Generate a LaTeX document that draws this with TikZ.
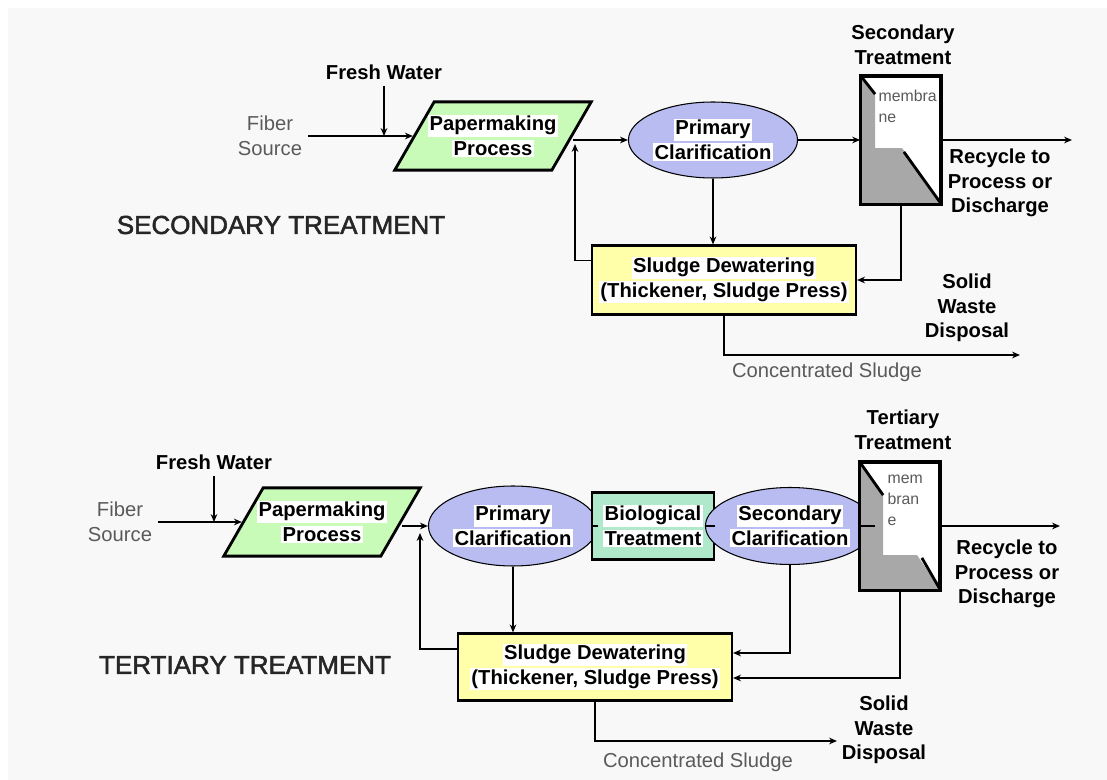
\documentclass[tikz,border=0pt]{standalone}
\usepackage{fontspec}
\setmainfont{Liberation Sans}
\newfontfamily\headfont[FakeBold=2]{Liberation Sans}
\usetikzlibrary{arrows.meta, shapes.geometric, positioning}

\definecolor{bggray}{RGB}{248,248,248}
\definecolor{papergreen}{RGB}{200,250,184}
\definecolor{clarblue}{RGB}{184,188,240}
\definecolor{biomint}{RGB}{176,232,204}
\definecolor{sludgeyellow}{RGB}{255,255,170}
\definecolor{membgray}{RGB}{168,168,168}
\definecolor{notegray}{RGB}{90,90,90}

\newcommand{\wl}[1]{{\setlength{\fboxsep}{0.8pt}\colorbox{white}{#1}}}

\tikzset{
  txt/.style={font=\fontsize{11.5}{14}\selectfont\bfseries, align=center},
  process/.style={txt, trapezium, trapezium left angle=60, trapezium right angle=120,
    draw, line width=1.6pt, fill=papergreen, inner xsep=-0.12cm, inner ysep=0.26cm},
  clarifier/.style={txt, ellipse, draw, line width=0.6pt, fill=clarblue, inner sep=0pt},
  biobox/.style={txt, rectangle, draw, line width=1.6pt, fill=biomint,
    minimum width=2.44cm, minimum height=1.34cm, inner sep=0pt},
  sludgebox/.style={txt, rectangle, draw, line width=1.3pt, fill=sludgeyellow, inner sep=0pt},
  membox/.style={rectangle, draw, line width=1.6pt, fill=white,
    minimum width=1.58cm, minimum height=2.54cm, inner sep=0pt},
  lbl/.style={txt},
  note/.style={font=\fontsize{11.5}{14}\selectfont, text=notegray, align=center},
  memtext/.style={font=\fontsize{9}{12}\selectfont, text=notegray, align=left, inner sep=0pt},
  heading/.style={font=\headfont\fontsize{14.8}{17}\selectfont, text=black!85},
  flow/.style={-{Stealth[length=4.5pt, width=3.8pt]}},
}

\begin{document}
\begin{tikzpicture}[x=0.02cm, y=-0.02cm, line width=0.7pt]
    \useasboundingbox (0,0) rectangle (1107,780);
    \fill[white] (0,0) rectangle (1107,780);
    \fill[bggray] (8,8) rectangle (1107,780);

    \node (P1) [process] at (493,136) {\wl{Papermaking}\\\wl{Process}};
    \node (C1) [clarifier, minimum width=2.86cm, minimum height=1.52cm] at (713,140) {\wl{Primary}\\\wl{Clarification}};
    \node (M1) [membox] at (901,140) {};
    \node (D1) [sludgebox, minimum width=5.28cm, minimum height=1.38cm] at (724,280) {\wl{Sludge Dewatering}\\\wl{(Thickener, Sludge Press)}};

    \node (W1) [lbl] at (384,72) {Fresh Water};
    \node (F1) [note] at (270,136) {Fiber\\Source};
    \node (T1) [lbl] at (903,45) {Secondary\\Treatment};
    \node (R1) [lbl] at (1000,183) {Recycle to\\Process or\\Discharge};
    \node (S1) [lbl] at (967,308) {Solid\\Waste\\Disposal};
    \node (G1) [note] at (827,372) {Concentrated Sludge};
    \node (H1) [heading] at (281,225) {SECONDARY TREATMENT};

    \coordinate (O1) at (1072,140);
    \coordinate (E1) at (1020,355);
    \coordinate (Q1) at (575,144);

    \fill[membgray] (M1.north west) -- ++(15,19) -- ++(0,54) -- ++(27,0) -- (M1.south east) -- (M1.south west) -- cycle;
    \draw[line width=1.6pt] (M1.north west) -- ++(15,19);
    \draw[line width=1.6pt] (M1.south east) -- ++(-38,-53);
    \draw[line width=1.6pt] (M1.north west) rectangle (M1.south east);
    \node (N1) [memtext, anchor=north west] at (878,89) {membra\\ne};

    \draw[flow] (F1.east) -- (F1.east -| P1.west);
    \draw[flow] (W1.south) -- (W1.south |- F1.east);
    \draw[flow] (P1.east |- C1.west) -- (C1.west);
    \draw[flow] ([yshift=0.39cm]D1.west) -| (Q1);
    \draw[flow] (C1.south) -- (C1.south |- D1.north);
    \draw[flow] (C1.east) -- (M1.west);
    \draw[flow] (M1.east) -- (O1);
    \draw[flow] (M1.south) |- (D1.east);
    \draw[flow] (D1.south) |- (E1);

    \node (P2) [process] at (322,522) {\wl{Papermaking}\\\wl{Process}};
    \node (C2) [clarifier, minimum width=2.82cm, minimum height=1.6cm] at (513,526) {\wl{Primary}\\\wl{Clarification}};
    \node (B2) [biobox] at (653,526) {\wl{Biological}\\\wl{Treatment}};
    \node (K2) [clarifier, minimum width=2.7cm, minimum height=1.54cm] at (790,526) {\wl{Secondary}\\\wl{Clarification}};
    \node (M2) [membox] at (900,526) {};
    \node (D2) [sludgebox, minimum width=5.48cm, minimum height=1.34cm] at (595,667) {\wl{Sludge Dewatering}\\\wl{(Thickener, Sludge Press)}};

    \node (W2) [lbl] at (214,462) {Fresh Water};
    \node (F2) [note] at (120,522) {Fiber\\Source};
    \node (T2) [lbl] at (903,430) {Tertiary\\Treatment};
    \node (R2) [lbl] at (1007,574) {Recycle to\\Process or\\Discharge};
    \node (S2) [lbl] at (884,730) {Solid\\Waste\\Disposal};
    \node (G2) [note] at (698,762) {Concentrated Sludge};
    \node (H2) [heading] at (245,665) {TERTIARY TREATMENT};

    \coordinate (O2) at (1060,526);
    \coordinate (E2) at (837,741);
    \coordinate (Q2) at (420,533);

    \fill[membgray] (M2.north west) -- ++(24,34) -- ++(0,60) -- ++(34,0) -- (M2.south east) -- (M2.south west) -- cycle;
    \draw[line width=1.6pt] (M2.north west) -- ++(24,34);
    \draw[line width=1.6pt] (M2.south east) -- ++(-19,-33);
    \draw[line width=1.6pt] (M2.north west) rectangle (M2.south east);
    \node (N2) [memtext, anchor=north west] at (887,474) {mem\\bran\\e};

    \draw[flow] (F2.east) -- (F2.east -| P2.west);
    \draw[flow] (W2.south) -- (W2.south |- F2.east);
    \draw[flow] (P2.east |- C2.west) -- (C2.west);
    \draw[flow] ([yshift=0.36cm]D2.west) -| (Q2);
    \draw (C2.east) -- (B2.west);
    \draw (B2.east) -- (K2.west);
    \draw (K2.east) -- (M2.west);
    \draw[flow] (M2.east) -- (O2);
    \draw[flow] (C2.south) -- (C2.south |- D2.north);
    \draw[flow] (K2.south) |- ([yshift=0.28cm]D2.east);
    \draw[flow] (M2.south) |- ([yshift=-0.22cm]D2.east);
    \draw[flow] (D2.south) |- (E2);
\end{tikzpicture}
\end{document}
